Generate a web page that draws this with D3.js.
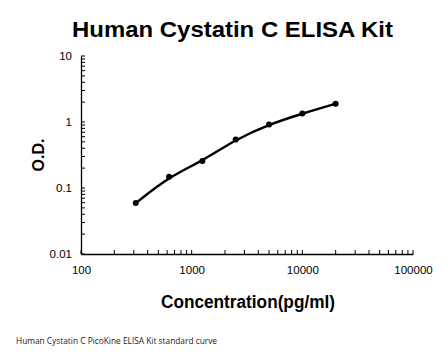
<!DOCTYPE html>
<html><head><meta charset="utf-8">
<script src="https://cdn.jsdelivr.net/npm/d3@7"></script>
<style>body{margin:0;background:#fff}svg{display:block}</style>
</head><body>
<script>
const concentrations = [312.5, 625, 1250, 2500, 5000, 10000, 20000];
const odValues = [0.059, 0.148, 0.256, 0.545, 0.92, 1.34, 1.89];
const xTickValues = [100, 1000, 10000, 100000];
const yTickValues = [0.01, 0.1, 1, 10];
const titleText = "Human Cystatin C ELISA Kit";
const xLabel = "Concentration(pg/ml)";
const yLabel = "O.D.";
const footer = "Human Cystatin C PicoKine ELISA Kit standard curve";

const W = 446, H = 356;
const svg = d3.select("body").append("svg").attr("width", W).attr("height", H);
const x = d3.scaleLog().domain([100, 100000]).range([81, 413]);
const y = d3.scaleLog().domain([0.01, 10]).range([254, 56]);

const font = "Arial, 'Liberation Sans', sans-serif";

const xMinor = [], yMinor = [];
for (let d = 100; d < 100000; d *= 10) for (let k = 2; k <= 9; k++) xMinor.push(d * k);
for (let d = 0.01; d < 10; d *= 10) for (let k = 2; k <= 9; k++) yMinor.push(+(d * k).toPrecision(3));

const gx = svg.append("g").attr("transform", "translate(0,254)");
gx.call(d3.axisBottom(x).tickValues(xTickValues).tickFormat(d3.format("d")).tickSize(0).tickPadding(12));
gx.select(".domain").attr("stroke", "#000").attr("stroke-width", 1.3);
gx.selectAll("text").attr("font-family", font).attr("font-size", 11.5).attr("fill", "#000");
gx.selectAll(".minor").data(xMinor.concat(xTickValues)).enter().append("line")
  .attr("x1", d => x(d)).attr("x2", d => x(d)).attr("y1", 0).attr("y2", -4)
  .attr("stroke", "#000").attr("stroke-width", 1);

const gy = svg.append("g").attr("transform", "translate(81,0)");
gy.call(d3.axisLeft(y).tickValues(yTickValues).tickFormat(d => String(d)).tickSize(0).tickPadding(9));
gy.select(".domain").attr("stroke", "#000").attr("stroke-width", 1.3);
gy.selectAll("text").attr("font-family", font).attr("font-size", 11.5).attr("fill", "#000");
gy.selectAll(".minor").data(yMinor.concat(yTickValues)).enter().append("line")
  .attr("y1", d => y(d)).attr("y2", d => y(d)).attr("x1", 0).attr("x2", 4)
  .attr("stroke", "#000").attr("stroke-width", 1);

const pts = concentrations.map((c, i) => [x(c), y(odValues[i])]);
svg.append("path").attr("d", d3.line().curve(d3.curveBasis)(pts))
  .attr("fill", "none").attr("stroke", "#000").attr("stroke-width", 2.5);
svg.selectAll("circle.pt").data(pts).enter().append("circle")
  .attr("cx", d => d[0]).attr("cy", d => d[1]).attr("r", 3).attr("fill", "#000");

svg.append("text").attr("x", 72).attr("y", 36.5)
  .attr("textLength", 321).attr("lengthAdjust", "spacingAndGlyphs")
  .attr("font-family", font).attr("font-weight", "bold").attr("font-size", 22).text(titleText);
svg.append("text").attr("x", 161).attr("y", 307.5)
  .attr("textLength", 174).attr("lengthAdjust", "spacingAndGlyphs")
  .attr("font-family", font).attr("font-weight", "bold").attr("font-size", 17.5).text(xLabel);
svg.append("text").attr("transform", "translate(44,155) rotate(-90)").attr("text-anchor", "middle")
  .attr("font-family", font).attr("font-weight", "bold").attr("font-size", 16).text(yLabel);
svg.append("text").attr("x", 16).attr("y", 344)
  .attr("textLength", 201).attr("lengthAdjust", "spacingAndGlyphs")
  .attr("font-family", "'Open Sans', sans-serif").attr("font-size", 8.5).attr("fill", "#222").text(footer);
</script>
</body></html>
